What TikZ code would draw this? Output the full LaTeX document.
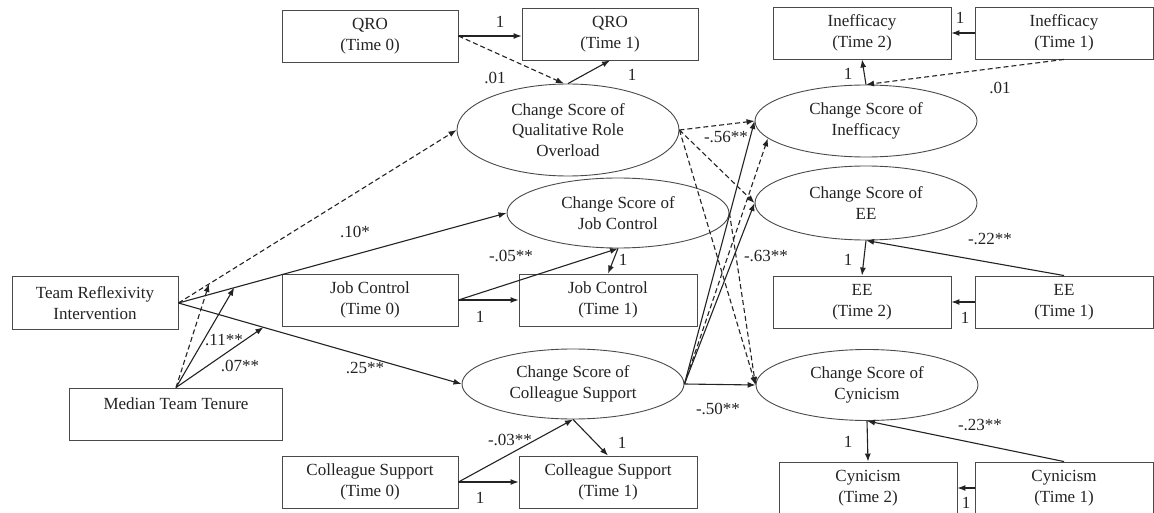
\documentclass[tikz,border=0pt]{standalone}
\usepackage{fontspec}
\setmainfont{Liberation Serif}
\usetikzlibrary{arrows.meta,shapes.geometric}
\definecolor{ink}{HTML}{232323}
\definecolor{frame}{HTML}{4A4A4A}
\newcommand{\fig}{\fontsize{17}{20.5}\selectfont}
\tikzset{
  box/.style={draw=frame, align=center, font=\fig, text=ink, inner sep=0pt,
              minimum width=176pt, minimum height=52pt, line width=0.9pt},
  score/.style={ellipse, draw=frame, align=center, font=\fig, text=ink,
                inner sep=0pt, minimum width=222pt, line width=0.9pt},
  ar/.style={-{Latex[length=8pt,width=6pt]}, line width=1.1pt, draw=ink},
  ardash/.style={ar, dash pattern=on 5pt off 3pt},
  lbl/.style={font=\fig, text=ink, inner sep=0pt}
}

\begin{document}
\begin{tikzpicture}[x=1pt,y=-1pt]
  \path[use as bounding box, fill=white] (0,0) rectangle (1154,513);
  % observed scores, left half
  \node[box] (qro0) at (370,36) {QRO\\(Time 0)};
  \node[box] (qro1) at (610,34) {QRO\\(Time 1)};
  \node[box, minimum width=166pt, minimum height=53pt] (tri) at (95,303) {Team Reflexivity\\Intervention};
  \node[box] (jc0) at (370,300) {Job Control\\(Time 0)};
  \node[box, minimum width=178pt] (jc1) at (608,300) {Job Control\\(Time 1)};
  \node[box, minimum width=213pt] (mtt) at (176,414) {Median Team Tenure\\ \mbox{}};
  \node[box] (csc0) at (370,482) {Colleague Support\\(Time 0)};
  \node[box, minimum width=178pt] (csc1) at (608,482) {Colleague Support\\(Time 1)};
  % observed scores, right half
  \node[box, minimum width=178pt] (ineff2) at (862,33) {Inefficacy\\(Time 2)};
  \node[box, minimum width=178pt] (ineff1) at (1064,33) {Inefficacy\\(Time 1)};
  \node[box, minimum width=178pt] (ee2) at (862,302) {EE\\(Time 2)};
  \node[box, minimum width=178pt] (ee1) at (1064,302) {EE\\(Time 1)};
  \node[box, minimum width=178pt] (cyn2) at (868,488) {Cynicism\\(Time 2)};
  \node[box, minimum width=178pt] (cyn1) at (1064,488) {Cynicism\\(Time 1)};
  % change scores
  \node[score, minimum height=92pt] (csqro) at (568,130) {Change Score of\\Qualitative Role\\Overload};
  \node[score, minimum height=70pt] (csjc) at (618,213) {Change Score of\\Job Control};
  \node[score, minimum height=70pt] (cscs) at (573,384) {Change Score of\\Colleague Support};
  \node[score, minimum height=72pt] (csineff) at (866,121) {Change Score of\\Inefficacy};
  \node[score, minimum height=74pt] (csee) at (866,203) {Change Score of\\EE};
  \node[score, minimum height=71pt] (cscyn) at (867,385) {Change Score of\\Cynicism};

  % intervention and moderation
  \path (tri.east) -- (csqro.west) coordinate[pos=.11] (modqro);
  \path (tri.east) -- (csjc.west) coordinate[pos=.17] (modjc);
  \path (tri.east) -- (cscs.west) coordinate[pos=.30] (modcs);
  \draw[ardash] (tri.east) -- (csqro.west);
  \draw[ar] (tri.east) -- (csjc.west);
  \draw[ar] (tri.east) -- (cscs.west);
  \draw[ardash] (mtt.north) -- (modqro);
  \draw[ar] (mtt.north) -- (modjc);
  \draw[ar] (mtt.north) -- (modcs);

  % change score models of the resources
  \draw[ar] (qro0.east) -- (qro0.east -| qro1.west);
  \draw[ardash] (qro0.east) -- (csqro.95);
  \draw[ar] (csqro.north) -- (qro1.south);
  \draw[ar] (jc0.east) -- (jc1.west);
  \draw[ar] (jc0.east) -- (csjc.south);
  \draw[ar] (csjc.south) -- (jc1.north);
  \draw[ar] (csc0.east) -- (csc1.west);
  \draw[ar] (csc0.east) -- (cscs.south);
  \draw[ar] (cscs.south) -- (csc1.north);

  % resources to burnout
  \draw[ardash] (csqro.east) -- (csineff.west);
  \draw[ardash] (csqro.east) -- (csee.west);
  \draw[ardash] (csqro.east) -- (cscyn.west);
  \draw[ardash] (csjc.east) -- (cscyn.west);
  \draw[ar] (cscs.east) -- (csineff.west);
  \draw[ardash] (cscs.east) -- (csineff.190);
  \draw[ar] (cscs.east) -- (csee.west);
  \draw[ar] (cscs.east) -- (cscyn.west);

  % change score models of burnout
  \draw[ar] (ineff1.west) -- (ineff2.east);
  \draw[ardash] (ineff1.south) -- (csineff.north);
  \draw[ar] (csineff.north) -- (ineff2.south);
  \draw[ar] (ee1.north) -- (csee.south);
  \draw[ar] (csee.south) -- (ee2.north);
  \draw[ar] (ee1.west) -- (ee2.east);
  \draw[ar] (cyn1.north) -- (cscyn.south);
  \draw[ar] (cscyn.south) -- (cyn2.north);
  \draw[ar] (cyn1.west) -- (cyn2.east);

  % coefficients
  \node[lbl] (w-qro) at (500,22) {1};
  \node[lbl] (b-qro) at (495,78) {.01};
  \node[lbl] (d-qro) at (632,75) {1};
  \node[lbl] (a-jc) at (355,232) {.10*};
  \node[lbl] (a-cs) at (365,368) {.25**};
  \node[lbl] (m-jc) at (224,340) {.11**};
  \node[lbl] (m-cs) at (240,366) {.07**};
  \node[lbl] (b-jc) at (511,256) {-.05**};
  \node[lbl] (d-jc) at (623,260) {1};
  \node[lbl] (w-jc) at (480,317) {1};
  \node[lbl] (b-cs) at (510,440) {-.03**};
  \node[lbl] (d-cs) at (622,443) {1};
  \node[lbl] (w-cs) at (480,498) {1};
  \node[lbl] (c-ineff) at (726,137) {-.56**};
  \node[lbl] (c-ee) at (766,256) {-.63**};
  \node[lbl] (c-cyn) at (718,409) {-.50**};
  \node[lbl] (w-ineff) at (960,18) {1};
  \node[lbl] (b-ineff) at (1000,88) {.01};
  \node[lbl] (d-ineff) at (848,74) {1};
  \node[lbl] (b-ee) at (990,239) {-.22**};
  \node[lbl] (d-ee) at (848,260) {1};
  \node[lbl] (w-ee) at (965,318) {1};
  \node[lbl] (b-cyn) at (980,425) {-.23**};
  \node[lbl] (d-cyn) at (848,442) {1};
  \node[lbl] (w-cyn) at (966,503) {1};
\end{tikzpicture}
\end{document}
